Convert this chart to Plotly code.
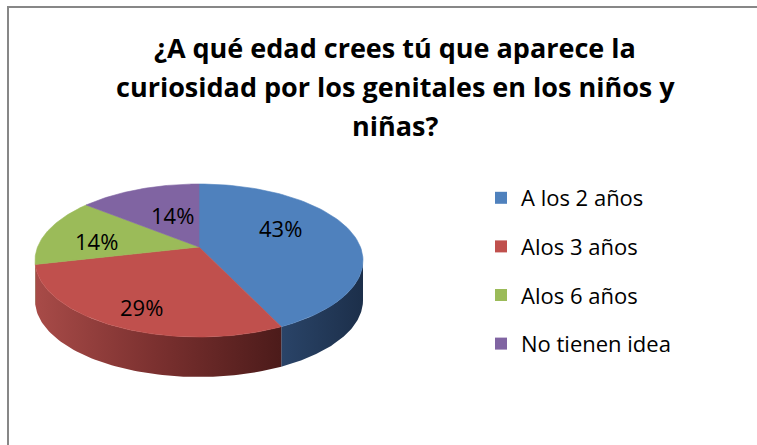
import numpy as np
import plotly.graph_objects as go

# ---------------- data ----------------
title_lines = [
    "¿A qué edad crees tú que aparece la",
    "curiosidad por los genitales en los niños y",
    "niñas?",
]
categories = ["A los 2 años", "Alos 3 años", "Alos 6 años", "No tienen idea"]
values = [3, 2, 1, 1]

# ---------------- style ----------------
top_colors = ["#4F81BD", "#C0504D", "#9BBB59", "#8064A2"]
side_scales = [
    [[0, "#2A4468"], [1, "#1C2F4A"]],
    [[0, "#A84B48"], [0.5, "#7A302F"], [1, "#4C1B1A"]],
    [[0, "#7D9846"], [1, "#5C7033"]],
    [[0, "#654F85"], [1, "#4A3A62"]],
]
label_radius = [0.553, 0.858, 0.627, 0.447]
label_angle_shift = [-13.8, -1.8, -5.8, 4.9]
FONT = "Open Sans"
W, H = 757, 445
CX, CY = 199.0, 260.5   # centre of the top ellipse (px)
RX, RY = 164.0, 76.5    # radii of the top ellipse
VX, VY = 199.0, 247.0   # apex of the slices (perspective)
DEPTH = 40.0

total = float(sum(values))
cum = np.concatenate([[0.0], np.cumsum(values)]) / total * 360.0


def ray_phi(theta_deg):
    """Parametric ellipse angle hit by a ray from the apex at true angle theta."""
    th = np.radians(theta_deg)
    a, b = np.sin(th), -np.cos(th)
    ox, oy = (VX - CX) / RX, (VY - CY) / RY
    p = ox * a + oy * b
    t = -p + np.sqrt(p * p - (ox * ox + oy * oy - 1.0))
    ex, ey = ox + t * a, oy + t * b
    return np.arctan2(ex, -ey)


phis = np.degrees(np.unwrap(np.array([ray_phi(c) for c in cum])))


def arc(p1, p2, n=80):
    ph = np.radians(np.linspace(p1, p2, n))
    return CX + RX * np.sin(ph), CY - RY * np.cos(ph)


fig = go.Figure()

# side walls (front half only)
for i in range(len(values)):
    lo, hi = max(phis[i], 90.0), min(phis[i + 1], 270.0)
    if hi <= lo:
        continue
    xs, ys = arc(lo, hi)
    px = np.concatenate([xs, xs[::-1], xs[:1]])
    py = np.concatenate([ys, ys[::-1] + DEPTH, ys[:1]])
    fig.add_trace(go.Scatter(
        x=px, y=py, mode="lines", fill="toself",
        line=dict(width=0, color=side_scales[i][-1][1]),
        fillgradient=dict(type="horizontal", colorscale=side_scales[i]),
        showlegend=False, hoverinfo="skip"))

# top faces
for i in range(len(values)):
    xs, ys = arc(phis[i], phis[i + 1])
    px = np.concatenate([[VX], xs, [VX]])
    py = np.concatenate([[VY], ys, [VY]])
    fig.add_trace(go.Scatter(
        x=px, y=py, mode="lines", fill="toself",
        fillcolor=top_colors[i], line=dict(width=0.6, color=top_colors[i]),
        showlegend=False, hoverinfo="text", text=categories[i]))

# percentage labels
for i in range(len(values)):
    mid = np.radians((cum[i] + cum[i + 1]) / 2 + label_angle_shift[i])
    f = label_radius[i]
    lx = VX + f * RX * np.sin(mid)
    ly = VY - f * RY * np.cos(mid)
    fig.add_annotation(x=lx, y=ly, xref="x", yref="y", showarrow=False,
                       text=f"{values[i] / total * 100:.0f}%",
                       font=dict(family=FONT, size=22, color="#000000"))

# legend entries
for i, name in enumerate(categories):
    fig.add_trace(go.Scatter(
        x=[None], y=[None], mode="markers", name=name, legendgroup=name,
        marker=dict(symbol="square", size=12, color=top_colors[i])))

# title
for k, line in enumerate(title_lines):
    fig.add_annotation(x=395, y=47 + k * 39, xref="x", yref="y", showarrow=False,
                       text=f"<b>{line}</b>",
                       font=dict(family=FONT, size=27, color="#000000"))

# chart border (top and left)
fig.add_shape(type="line", x0=8, x1=W, y0=7, y1=7, xref="x", yref="y",
              line=dict(color="#878787", width=2))
fig.add_shape(type="line", x0=8, x1=8, y0=6, y1=H, xref="x", yref="y",
              line=dict(color="#878787", width=2))

fig.update_layout(
    width=W, height=H, margin=dict(l=0, r=0, t=0, b=0),
    paper_bgcolor="white", plot_bgcolor="white",
    xaxis=dict(range=[0, W], visible=False, fixedrange=True),
    yaxis=dict(range=[H, 0], visible=False, fixedrange=True),
    showlegend=True,
    legend=dict(x=481 / W, y=1 - 177 / H, xanchor="left", yanchor="top",
                font=dict(family=FONT, size=22, color="#000000"),
                tracegroupgap=17, bgcolor="rgba(0,0,0,0)"),
    font=dict(family=FONT),
)

fig.write_html("out.html",
               config={"displayModeBar": False},
               post_script="document.body.style.margin='0';"
                           "document.body.style.overflow='hidden';")
